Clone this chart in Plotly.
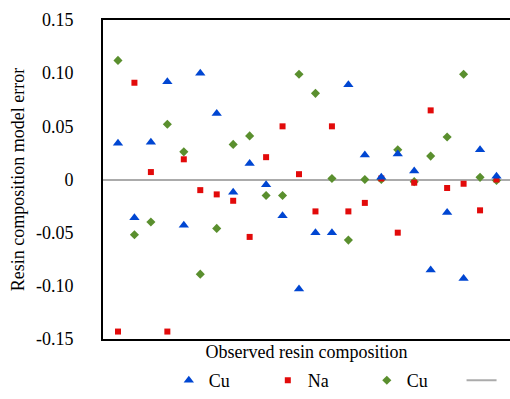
import plotly.graph_objects as go

samples = list(range(1, 25))
cu_blue = [0.034, -0.036, 0.035, 0.092, -0.043, 0.100, 0.062, -0.012, 0.015, -0.005,
           -0.034, -0.103, -0.050, -0.050, 0.089, 0.023, 0.002, 0.024, 0.008, -0.085,
           -0.031, -0.093, 0.028, 0.003]
na_red = [-0.143, 0.091, 0.007, -0.143, 0.019, -0.010, -0.014, -0.020, -0.054, 0.021,
          0.050, 0.005, -0.030, 0.050, -0.030, -0.022, 0.001, -0.050, -0.003, 0.065,
          -0.008, -0.004, -0.029, 0.000]
cu_green = [0.112, -0.052, -0.040, 0.052, 0.026, -0.089, -0.046, 0.033, 0.041, -0.015,
            -0.015, 0.099, 0.081, 0.001, -0.057, 0.000, 0.000, 0.028, -0.002, 0.022,
            0.040, 0.099, 0.002, -0.001]
y_ticks = [0.15, 0.10, 0.05, 0, -0.05, -0.10, -0.15]
y_tick_text = ["0.15", "0.10", "0.05", "0", "-0.05", "-0.10", "-0.15"]

FONT = "Liberation Serif"
BLUE = "#0046D2"
RED = "#E20A0A"
GREEN = "#5A8F2E"
GREY = "#ABABAB"

fig = go.Figure()
fig.add_trace(go.Scatter(x=samples, y=cu_green, mode="markers", name="Cu", legendrank=3,
                         marker=dict(symbol="diamond", size=7, color=GREEN)))
fig.add_trace(go.Scatter(x=samples, y=na_red, mode="markers", name="Na", legendrank=2,
                         marker=dict(symbol="square", size=6, color=RED)))
fig.add_trace(go.Scatter(x=samples, y=cu_blue, mode="markers", name="Cu", legendrank=1,
                         marker=dict(symbol="triangle-up", size=9, color=BLUE)))
fig.add_trace(go.Scatter(x=[None], y=[None], mode="lines", name="", legend="legend2",
                         line=dict(color=GREY, width=2)))

fig.update_layout(
    width=510, height=399,
    margin=dict(l=103, r=0, t=20, b=60, autoexpand=False),
    paper_bgcolor="white", plot_bgcolor="white",
    font=dict(family=FONT, size=18, color="black"),
    showlegend=True,
    legend=dict(orientation="h", xref="container", yref="container",
                x=0.331, xanchor="left", y=0.0, yanchor="bottom",
                entrywidth=54, font=dict(family=FONT, size=18), itemwidth=30,
                traceorder="normal", bgcolor="rgba(0,0,0,0)"),
    legend2=dict(orientation="h", xref="container", yref="container",
                 x=0.905, xanchor="left", y=0.0, yanchor="bottom",
                 font=dict(family=FONT, size=18), itemwidth=30,
                 bgcolor="rgba(0,0,0,0)"),
)
fig.update_xaxes(range=[0.09, 24.82], showticklabels=False, ticks="",
                 showgrid=False, zeroline=False,
                 showline=True, linecolor="black", linewidth=2, mirror=True,
                 title=dict(text="Observed resin composition", standoff=22,
                            font=dict(family=FONT, size=18)))
fig.update_yaxes(range=[-0.15, 0.15], tickvals=y_ticks, ticktext=y_tick_text,
                 tickfont=dict(family=FONT, size=18, color="black"),
                 showgrid=False, zeroline=True, zerolinecolor=GREY, zerolinewidth=1.5,
                 showline=True, linecolor="black", linewidth=2, mirror=False,
                 ticks="", ticklabelstandoff=24,
                 title=dict(text="Resin composition model error", standoff=7,
                            font=dict(family=FONT, size=18)))

fig.write_html("out.html")
